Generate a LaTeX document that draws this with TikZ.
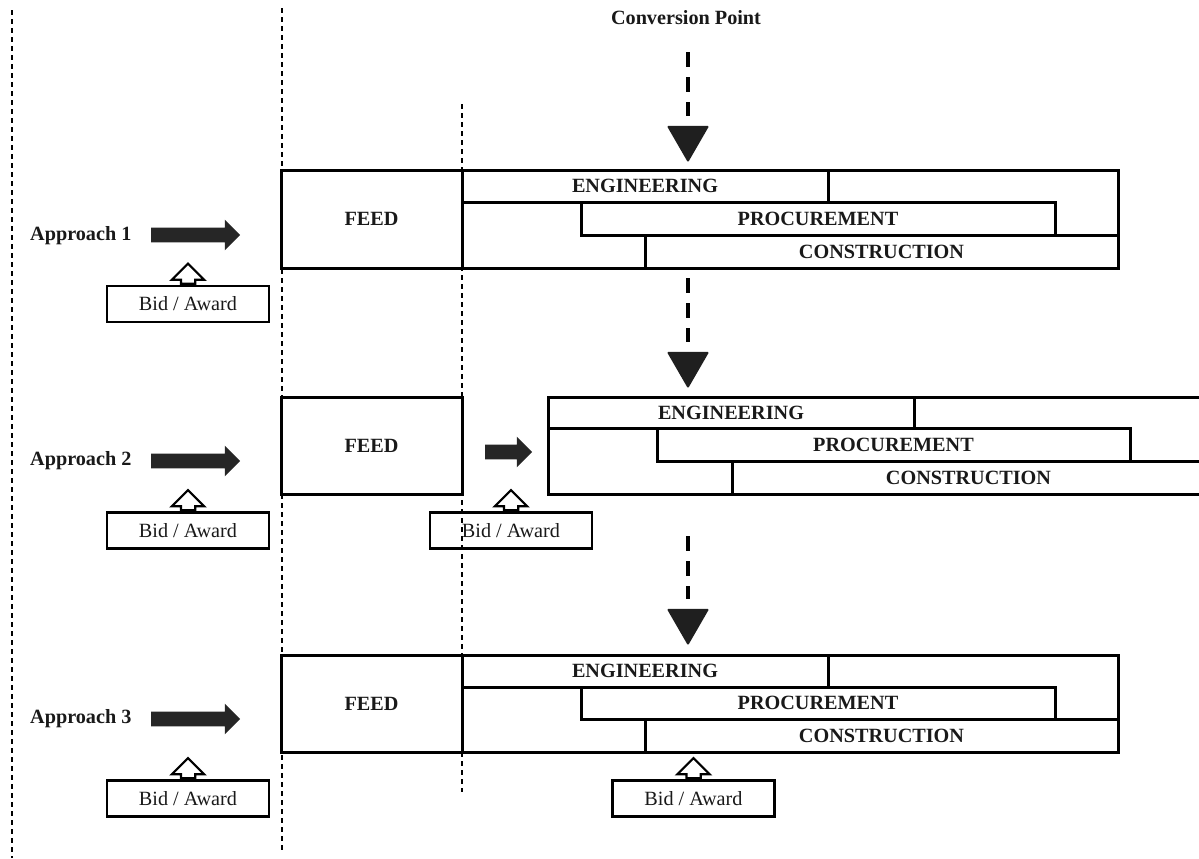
\documentclass[tikz,border=0pt]{standalone}
\usepackage{fontspec}
\setmainfont{Liberation Serif}
\usetikzlibrary{positioning,fit,shapes.arrows,shapes.geometric}
\tikzset{
  blk/.style={draw=black,line width=0.6mm,inner sep=0pt},
  lab/.style={font=\fontsize{11.5}{13}\selectfont\bfseries,text=black!90},
  phase/.style={blk,label={[lab]center:#1}},
  bidbox/.style={draw=black,line width=0.5mm,minimum width=32.4mm,minimum height=7.2mm,inner sep=0pt,font=\fontsize{11.5}{13}\selectfont,text=black!90},
  fatarr/.style={single arrow,fill=black!85,inner xsep=0pt,inner ysep=1.4mm,single arrow head extend=1.6mm,minimum height=17.8mm},
  uparr/.style={single arrow,draw=black,fill=white,line width=0.45mm,rotate=90,inner xsep=0pt,inner ysep=1.2mm,single arrow head extend=1.8mm,minimum height=4mm,anchor=tail},
  convtip/.style={regular polygon,regular polygon sides=3,shape border rotate=180,fill=black!88,minimum size=9.8mm,inner sep=0pt,rounded corners=0.8pt},
  convline/.style={line width=0.8mm,dash pattern=on 3mm off 2mm,shorten >=1.8mm},
  guide/.style={line width=0.25mm,dash pattern=on 1mm off 0.8mm},
}
\begin{document}
\begin{tikzpicture}[x=0.2mm,y=-0.2mm]
\useasboundingbox (0,0) rectangle (1199,858);
\clip (0,0) rectangle (1199,858);
% guides
\draw[guide] (12,10) -- (12,858);
\draw[guide] (282,8) -- (282,852);
\draw[guide] (462,104) -- (462,792);

\node[lab] (conv) at (686,18) {Conversion Point};
\foreach \n/\a/\c in {1/52/138,2/278/364,3/536/621}{
  \coordinate (cv\n) at (688,\a);
  \node[convtip] (tip\n) at (688,\c) {};
  \draw[convline] (cv\n) -- (tip\n.north);
}

% approach 1
\node[lab,anchor=west] (ap1) at (24,236) {Approach 1};
\node[fatarr] (ar1) at (192,235) {};
\node[blk,fit={(281,170)(1118,268)}] (out1) {};
\node[phase=FEED,fit={(281,170)(462,268)}] (feed1) {};
\node[phase=ENGINEERING,fit={(462,170)(828,202)}] (eng1) {};
\node[phase=PROCUREMENT,fit={(581,202)(1055,235)}] (proc1) {};
\node[phase=CONSTRUCTION,fit={(645,235)(1118,268)}] (con1) {};
\node[bidbox] (bid1) at (188,304) {Bid / Award};
\node[uparr] (up1) at (bid1.north) {};

% approach 2
\node[lab,anchor=west] (ap2) at (24,461) {Approach 2};
\node[fatarr] (ar2) at (192,461) {};
\node[phase=FEED,fit={(281,397)(462,494)}] (feed2) {};
\node[fatarr,minimum height=9.4mm] (ar2b) at (505,452) {};
\node[blk,fit={(548,397)(1205,494)}] (out2) {};
\node[phase=ENGINEERING,fit={(548,397)(914,428)}] (eng2) {};
\node[phase=PROCUREMENT,fit={(657,428)(1130,461)}] (proc2) {};
\node[phase=CONSTRUCTION,fit={(732,461)(1205,494)}] (con2) {};
\node[bidbox] (bid2) at (188,530.5) {Bid / Award};
\node[uparr] (up2) at (bid2.north) {};
\node[bidbox] (bid2b) at (511,530.5) {Bid / Award};
\node[uparr] (up2b) at (bid2b.north) {};

% approach 3
\node[lab,anchor=west] (ap3) at (24,719) {Approach 3};
\node[fatarr] (ar3) at (192,719) {};
\node[blk,fit={(281,655)(1118,752)}] (out3) {};
\node[phase=FEED,fit={(281,655)(462,752)}] (feed3) {};
\node[phase=ENGINEERING,fit={(462,655)(828,687)}] (eng3) {};
\node[phase=PROCUREMENT,fit={(581,687)(1055,719)}] (proc3) {};
\node[phase=CONSTRUCTION,fit={(645,719)(1118,752)}] (con3) {};
\node[bidbox] (bid3) at (188,798.5) {Bid / Award};
\node[uparr] (up3) at (bid3.north) {};
\node[bidbox] (bid3b) at (693.5,798.5) {Bid / Award};
\node[uparr] (up3b) at (bid3b.north) {};
\end{tikzpicture}
\end{document}
